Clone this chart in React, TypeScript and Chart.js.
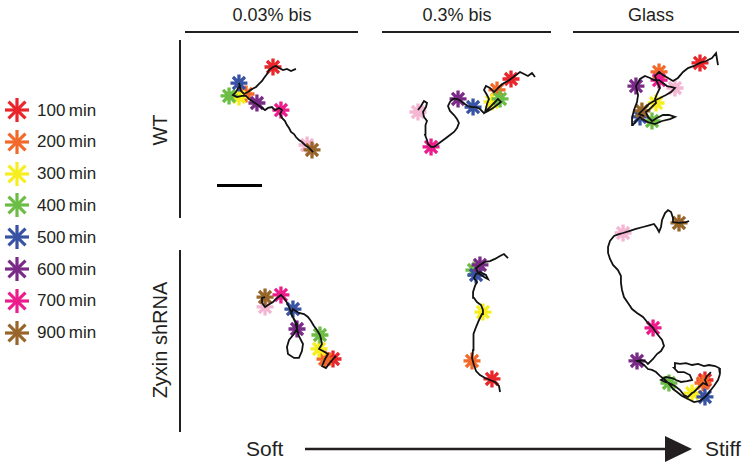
import React, { useEffect, useRef } from 'react';
import { Chart, registerables } from 'chart.js';
Chart.register(...registerables);

const FONT = '"Liberation Sans", Arial, Helvetica, sans-serif';
const INK = '#231f20';

// ---- labels ----
const conditions = ['0.03% bis', '0.3% bis', 'Glass'];
const genotypes = ['WT', 'Zyxin shRNA'];
const markerTimes = [100, 200, 300, 400, 500, 600, 700, 800, 900];
const markerColors = ['#e8262b', '#f26a2a', '#f7ee1f', '#6cbd45', '#3853a4', '#7a2a87', '#ec1c8c', '#f4b6d2', '#98652b'];
const legendTimes = [100, 200, 300, 400, 500, 600, 700, 900];
const scaleBarUm = 30;
const PX_PER_UM = 1.5;

type P = [number, number];

// ---- trajectories (µm, panel-local, y downward) ----
const wtSoftPath: P[] = [
  [67.3, 19.3], [64, 20.7], [61.3, 19.3], [58.7, 20], [56, 18.7], [54, 17.3], [52, 18], [49.3, 20], [48, 22.7], [46, 25.3],
  [44.7, 27.3], [42.7, 29.3], [40.7, 31.3], [38, 32.7], [35.3, 34.7], [32.7, 36], [30.7, 34], [29.3, 28.7], [30, 30.7], [28.7, 32],
  [27.3, 34.7], [25.3, 36.7], [28, 38], [31.3, 37.3], [34, 37.3], [36, 39.3], [38, 40.7], [40, 42], [42, 43.3], [44.7, 45.3],
  [46.7, 46.7], [48.7, 45.3], [51.3, 44.7], [53.3, 46.7], [56, 45.3], [58, 46.7], [56.7, 49.3], [58, 52], [60, 54], [61.3, 56.7],
  [62.7, 58.7], [64, 61.3], [66, 62.7], [67.3, 64.7], [69.3, 66.7], [71.3, 68], [73.3, 70], [75.3, 71.3], [77.3, 73.3], [78.7, 74.7],
];
const wtSoftMarks: (P | null)[] = [[52, 18], [34, 36], [29.3, 38], [22.7, 37.3], [29.3, 28.7], [41.3, 42], [57.3, 46.7], [74.7, 70], [78, 73.3]];

const wtMidPath: P[] = [
  [100, 24.7], [98, 22], [95.3, 24], [92.7, 22.7], [90, 21.3], [87.3, 23.3], [84.7, 25.3], [82, 27.3], [79.3, 28.7], [76.7, 30.7],
  [74.7, 32.7], [72.7, 34.7], [70, 32], [67.3, 30.7], [66, 33.3], [68, 36.7], [69.3, 39.3], [68, 42.7], [66.7, 48], [70, 44.7],
  [72.7, 42], [75.3, 39.3], [77.3, 41.3], [74.7, 43.3], [72, 45.3], [68.7, 47.3], [66, 48.7], [63.3, 46], [60.7, 44.7], [58, 44.7],
  [55.3, 44], [53.3, 42.7], [50.7, 40.7], [48, 39.3], [45.3, 39.3], [43.3, 41.3], [42, 44], [43.3, 47.3], [46, 50], [48, 52.7],
  [49.3, 55.3], [48, 58.7], [46, 61.3], [43.3, 63.3], [40.7, 65.3], [38, 67.3], [35.3, 69.3], [32.7, 71.3], [30.7, 71.3], [28.7, 69.3],
  [28, 66.7], [26.7, 63.3], [26.7, 60], [27.3, 56.7], [28, 54], [26, 51.3], [25.3, 48], [27.3, 44.7], [28, 42], [26, 40.7],
  [24, 44], [22, 46.7],
];
const wtMidMarks: (P | null)[] = [[84, 26], [74.7, 33.3], [71.3, 41.3], [76.7, 39.3], [58.7, 44.7], [48.7, 39.3], [30.7, 71.3], [22, 48], null];

const wtGlassPath: P[] = [
  [92, 16.7], [90.7, 8.7], [88, 12], [84, 14], [80, 15.3], [76, 17.3], [72, 18.7], [68.7, 21.3], [65.3, 25.3], [62, 27.3],
  [58.7, 25.3], [55.3, 23.3], [52.7, 21.3], [50, 24], [51.3, 28], [53.3, 32], [51.3, 36], [50, 39.3], [50.7, 42], [47.3, 45.3],
  [44, 48], [45.3, 51.3], [48, 54], [51.3, 52], [55.3, 50], [59.3, 50], [63.3, 51.3], [60, 52.7], [54.7, 54], [50, 56],
  [45.3, 54.7], [41.3, 52.7], [40, 51.3], [37.3, 54], [35.3, 56.7], [34.7, 52], [36, 46.7], [38, 41.3], [38.7, 36.7], [37.3, 30.7],
  [40, 26], [43.3, 24], [46.7, 25.3], [49.3, 26.7], [52.7, 26.7], [55.3, 28.7], [58, 30.7], [60.7, 31.3], [63.3, 32], [60.7, 34.7],
  [57.3, 36.7], [53.3, 38.7], [49.3, 40.7], [46, 42.7], [43.3, 45.3], [41.3, 47.3], [39.3, 49.3], [42.7, 50.7],
];
const wtGlassMarks: (P | null)[] = [[80, 15.3], [52.7, 21.3], [50.7, 42], [48, 54], [40, 51.3], [37.3, 30.7], [52.7, 26.7], [63.3, 32], [41.3, 47.3]];

const zyxSoftPath: P[] = [
  [94, 104], [92, 106], [89.3, 109.3], [87.3, 112], [84.7, 110.7], [86.7, 106], [88.7, 102.7], [85.3, 100.7], [82.7, 99.3], [84.7, 96],
  [84, 92.7], [83.3, 90], [81.3, 86.7], [79.3, 84], [77.3, 80.7], [75.3, 78], [72.7, 76], [69.3, 75.3], [67.3, 74], [65.3, 72.7],
  [64, 76], [66, 79.3], [68, 82.7], [68, 86], [66, 89.3], [62.7, 93.3], [61.3, 98], [62, 102.7], [66, 105.3], [69.3, 105.3],
  [71.3, 100.7], [72, 96], [69.3, 90.7], [68, 86], [66.7, 81.3], [64.7, 76.7], [62.7, 71.3], [60.7, 67.3], [58.7, 64.7], [57.3, 63.3],
  [54.7, 65.3], [52, 68], [48.7, 70], [46.7, 71.3], [44.7, 68.7], [44.7, 65.3], [46.7, 64.7],
];
const zyxSoftMarks: (P | null)[] = [[92, 106], [86.7, 106], [82.7, 99.3], [83.3, 90], [65.3, 72.7], [68, 86], [57.3, 63.3], [46.7, 71.3], [46.7, 64.7]];

const zyxMidPath: P[] = [
  [76.7, 128], [76, 124], [73.3, 121.3], [70, 120], [66.7, 118.7], [63.3, 116.7], [60.7, 114], [59.3, 110], [58, 105.3], [58.7, 100],
  [58.7, 94.7], [59.3, 89.3], [60.7, 84.7], [62.7, 80], [64.7, 76], [65.3, 73.3], [64, 70], [61.3, 68], [59.3, 65.3], [58.7, 61.3],
  [60, 57.3], [61.3, 54.7], [59.3, 52], [60.7, 49.3], [63.3, 48], [67.3, 50], [68.7, 52.7], [66, 51.3], [62, 48.7], [60.7, 45.3],
  [63.3, 43.3], [66.7, 41.3], [70, 40.7], [73.3, 39.3], [76.7, 37.3], [79.3, 36], [82, 38.7],
];
const zyxMidMarks: (P | null)[] = [[71.3, 119.3], [58, 107.3], [65.3, 74.7], [59.3, 46.7], [60.7, 50], [63.3, 43.3], null, null, null];

const zyxGlassPath: P[] = [
  [87.3, 114.7], [84.7, 117.3], [83.3, 120], [84.7, 123.3], [82, 122], [78.7, 125.3], [76, 128], [74.7, 128.7], [72, 131.3], [69.3, 130],
  [66.7, 126.7], [63.3, 124], [60.7, 122.7], [59.3, 122], [56.7, 121.3], [54, 120], [57.3, 118], [61.3, 118.7], [64, 120], [67.3, 121.3],
  [71.3, 120.7], [74.7, 120], [73.3, 116.7], [69.3, 114.7], [65.3, 114.7], [62.7, 112], [63.3, 108.7], [66.7, 109.3], [70.7, 108.7], [74.7, 110],
  [78.7, 109.3], [82.7, 110.7], [86, 110], [90, 110.7], [92.7, 112], [93.3, 116], [92, 120], [89.3, 124], [86.7, 127.3], [84.7, 130],
  [83.3, 131.3], [80, 134], [76, 134.7], [72, 132.7], [68, 130.7], [64.7, 128], [62, 126], [60, 123.3], [56.7, 120], [53.3, 117.3],
  [50.7, 114.7], [48, 113.3], [45.3, 112.7], [42.7, 110], [40, 108], [38, 107.3], [40.7, 106.7], [43.3, 107.3], [45.3, 109.3], [48.7, 106],
  [51.3, 102.7], [54, 100.7], [56, 97.3], [54.7, 93.3], [52, 90], [50, 87.3], [48.7, 85.3], [45.3, 82], [42, 78], [38, 75.3],
  [34.7, 72.7], [32, 68.7], [29.3, 64.7], [28, 60], [27.3, 55.3], [27.3, 50.7], [25.3, 46.7], [22, 43.3], [20, 39.3], [18.7, 35.3],
  [18.7, 31.3], [20, 27.3], [22.7, 24], [26, 22.7], [28.7, 22], [32.7, 20.7], [37.3, 19.3], [42, 18], [46.7, 16.7], [49.3, 16],
  [51.3, 18.7], [52.7, 21.3], [54, 18], [54.7, 13.3], [56.7, 8.7], [58.7, 6.7], [60.7, 8], [62, 12], [62, 14.7], [66, 15.3],
  [70.7, 14.7], [72.7, 14],
];
const zyxGlassMarks: (P | null)[] = [[83.3, 120], [82, 122], [74.7, 128.7], [59.3, 122], [83.3, 131.3], [38, 107.3], [48.7, 85.3], [28.7, 22], [66, 15.3]];

const panelPaths: P[][][] = [
  [wtSoftPath, wtMidPath, wtGlassPath],
  [zyxSoftPath, zyxMidPath, zyxGlassPath],
];
const panelMarks: (P | null)[][][] = [
  [wtSoftMarks, wtMidMarks, wtGlassMarks],
  [zyxSoftMarks, zyxMidMarks, zyxGlassMarks],
];

// ---- layout (pixels) ----
const colLeft = [195, 385, 580];
const panelW = 165;
const rowBox = [{ top: 40, h: 135 }, { top: 200, h: 210 }];
const headerLines = [[185, 358], [382, 551], [573, 739]];
const headerCenters = [272, 457, 651];
const rowLines = [[40, 218], [250, 432]];
const rowLabelCenter = [130, 340];
const legendY = [110, 141.8, 173.6, 205.4, 237.2, 269, 300.8, 332.6];

function Panel({ left, top, width, height, path, marks }: { left: number; top: number; width: number; height: number; path: P[]; marks: (P | null)[] }) {
  const ref = useRef<HTMLCanvasElement>(null);
  useEffect(() => {
    const datasets: any[] = [
      {
        label: 'track',
        data: path.map(([x, y]) => ({ x, y })),
        showLine: true,
        borderColor: '#121212',
        borderWidth: 1.8,
        pointRadius: 0,
        tension: 0,
        order: 0,
        clip: false,
      },
    ];
    marks.forEach((m, i) => {
      datasets.push({
        label: `${markerTimes[i]} min`,
        data: m ? [{ x: m[0], y: m[1] }] : [],
        showLine: false,
        pointStyle: 'star',
        pointRadius: 8.5,
        pointBorderWidth: 3.3,
        pointBorderColor: markerColors[i],
        pointBackgroundColor: markerColors[i],
        borderColor: markerColors[i],
        backgroundColor: markerColors[i],
        order: 20 - i,
        clip: false,
      });
    });
    const chart = new Chart(ref.current!, {
      type: 'scatter',
      data: { datasets },
      options: {
        animation: false,
        responsive: false,
        events: [],
        layout: { padding: 0, autoPadding: false },
        plugins: { legend: { display: false }, tooltip: { enabled: false } },
        scales: {
          x: { type: 'linear', min: 0, max: width / PX_PER_UM, display: false },
          y: { type: 'linear', min: 0, max: height / PX_PER_UM, reverse: true, display: false },
        },
      },
    });
    return () => chart.destroy();
  }, []);
  return <canvas ref={ref} width={width} height={height} style={{ position: 'absolute', left, top, width, height }} />;
}

function Asterisk({ color, r }: { color: string; r: number }) {
  const c = r + 1;
  const lines = [0, 45, 90, 135].map((a) => {
    const rad = (a * Math.PI) / 180;
    return (
      <line key={a} x1={c - r * Math.cos(rad)} y1={c - r * Math.sin(rad)} x2={c + r * Math.cos(rad)} y2={c + r * Math.sin(rad)} stroke={color} strokeWidth={3.2} />
    );
  });
  return (
    <svg width={2 * c} height={2 * c} style={{ display: 'block' }}>
      {lines}
    </svg>
  );
}

export default function App() {
  const text = { position: 'absolute' as const, fontFamily: FONT, color: INK, whiteSpace: 'nowrap' as const };
  return (
    <div style={{ position: 'absolute', left: 0, top: 0, width: 750, height: 467, background: '#fff', overflow: 'hidden' }}>
      {conditions.map((c, i) => (
        <React.Fragment key={c}>
          <div style={{ ...text, left: headerCenters[i] - 80, width: 160, top: 6, fontSize: 18, lineHeight: '18px', textAlign: 'center' }}>{c}</div>
          <div style={{ position: 'absolute', left: headerLines[i][0], width: headerLines[i][1] - headerLines[i][0], top: 31, height: 2, background: INK }} />
        </React.Fragment>
      ))}
      {genotypes.map((g, i) => (
        <React.Fragment key={g}>
          <div style={{ position: 'absolute', left: 179, width: 2, top: rowLines[i][0], height: rowLines[i][1] - rowLines[i][0], background: INK }} />
          <div style={{ ...text, left: 160 - 100, width: 200, top: rowLabelCenter[i] - 11, height: 22, fontSize: 20, lineHeight: '22px', textAlign: 'center', transform: 'rotate(-90deg)' }}>{g}</div>
        </React.Fragment>
      ))}
      {legendTimes.map((t, i) => {
        const ci = markerTimes.indexOf(t);
        return (
          <div key={t} style={{ position: 'absolute', left: 0, top: legendY[i] - 13, height: 26, width: 130 }}>
            <div style={{ position: 'absolute', left: 17 - 13, top: 0 }}>
              <Asterisk color={markerColors[ci]} r={12} />
            </div>
            <div style={{ ...text, left: 37, top: 4.5, fontSize: 17, lineHeight: '17px' }}>{`${t}\u2009min`}</div>
          </div>
        );
      })}
      {rowBox.map((rb, r) =>
        colLeft.map((cl, c) => (
          <Panel key={`${r}-${c}`} left={cl} top={rb.top} width={panelW} height={rb.h} path={panelPaths[r][c]} marks={panelMarks[r][c]} />
        ))
      )}
      <div style={{ position: 'absolute', left: 217, top: 184, width: scaleBarUm * PX_PER_UM, height: 3, background: '#000' }} />
      <div style={{ ...text, left: 246, top: 438, fontSize: 21, lineHeight: '21px' }}>Soft</div>
      <div style={{ ...text, left: 705, top: 438, fontSize: 21, lineHeight: '21px' }}>Stiff</div>
      <svg width={750} height={467} style={{ position: 'absolute', left: 0, top: 0, pointerEvents: 'none' }}>
        <line x1={305} y1={449} x2={668} y2={449} stroke={INK} strokeWidth={2.4} />
        <polygon points="665,436 692,449 665,462" fill={INK} />
      </svg>
    </div>
  );
}
